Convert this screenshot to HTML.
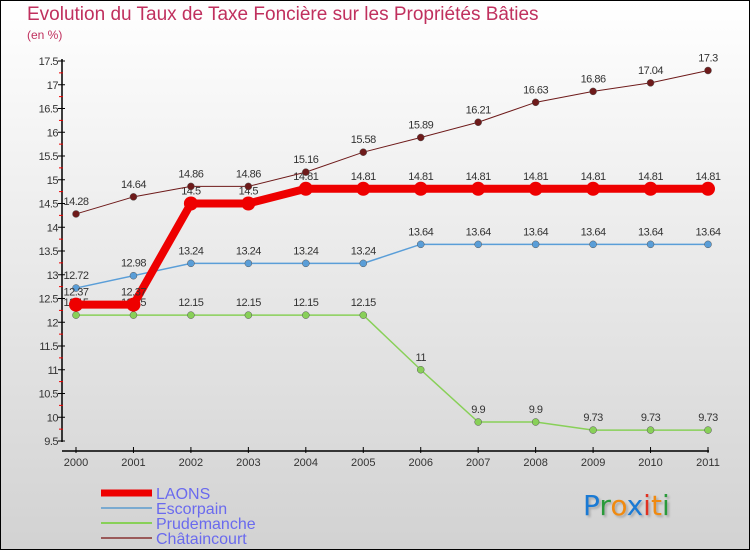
<!DOCTYPE html>
<html><head><meta charset="utf-8"><style>
body{margin:0;}
#wrap{position:relative;width:750px;height:550px;background:linear-gradient(#ffffff,#d2d2d2);border:1px solid #000;box-sizing:border-box;font-family:"Liberation Sans",sans-serif;overflow:hidden}
.t{position:absolute;color:#c0305e}
</style></head><body>
<div id="wrap">
<div class="t" style="left:26px;top:3px;font-size:19px">Evolution du Taux de Taxe Foncière sur les Propriétés Bâties</div>
<div class="t" style="left:26px;top:27px;font-size:12px">(en %)</div>
<svg id="svg" width="750" height="550" style="position:absolute;left:0;top:0"></svg>
<div style="position:absolute;left:582px;top:488px;font-size:28px;font-family:'DejaVu Sans',sans-serif;text-shadow:2px 2px 2px #aaa"><span style="color:#1a7ad4">P</span><span style="color:#2a9a3a">r</span><span style="color:#f08a10">o</span><span style="color:#1a7ad4">x</span><span style="color:#e03020">i</span><span style="color:#f08a10">t</span><span style="color:#2a9a3a">i</span></div>
</div>
<script>
const years=["2000","2001","2002","2003","2004","2005","2006","2007","2008","2009","2010","2011"];
const laons=[12.37,12.37,14.5,14.5,14.81,14.81,14.81,14.81,14.81,14.81,14.81,14.81];
const escorpain=[12.72,12.98,13.24,13.24,13.24,13.24,13.64,13.64,13.64,13.64,13.64,13.64];
const prudemanche=[12.15,12.15,12.15,12.15,12.15,12.15,11,9.9,9.9,9.73,9.73,9.73];
const chataincourt=[14.28,14.64,14.86,14.86,15.16,15.58,15.89,16.21,16.63,16.86,17.04,17.3];
const yTicks=[9.5,10,10.5,11,11.5,12,12.5,13,13.5,14,14.5,15,15.5,16,16.5,17,17.5];
const labelsL=["12.37","12.37","14.5","14.5","14.81","14.81","14.81","14.81","14.81","14.81","14.81","14.81"];
const svg=document.getElementById('svg');const NS='http://www.w3.org/2000/svg';
function X(i){return 75+i*(707-75)/11;}
function Y(v){return 440-(v-9.5)*47.5;}
function mk(tag,attrs,name){const e=document.createElementNS(NS,tag);for(const k in attrs)e.setAttribute(k,attrs[k]);


svg.appendChild(e);return e;}
mk('line',{x1:61,y1:58,x2:61,y2:441,stroke:'#000','stroke-width':1.5},'y-axis');
mk('line',{x1:61,y1:450,x2:708,y2:450,stroke:'#000','stroke-width':1.5},'x-axis');
yTicks.forEach(v=>{const y=Y(v);mk('line',{x1:57,y1:y,x2:64,y2:y,stroke:'#000'},'y-tick');
const t=mk('text',{x:57,y:y+4,'text-anchor':'end','font-size':11,fill:'#333','letter-spacing':'-0.5'},'y-tick-label');t.textContent=v;
if(v<17.5){mk('line',{x1:58,y1:Y(v+0.25),x2:62,y2:Y(v+0.25),stroke:'#e00'},'y-minor-tick');}});
years.forEach((yr,i)=>{mk('line',{x1:X(i),y1:446,x2:X(i),y2:452,stroke:'#000'},'x-tick');
const t=mk('text',{x:X(i),y:465,'text-anchor':'middle','font-size':11,fill:'#333'},'x-tick-label');t.textContent=yr;});
function series(vals,color,w,r,name,labels){
mk('polyline',{points:vals.map((v,i)=>X(i)+','+Y(v)).join(' '),fill:'none',stroke:color,'stroke-width':w},name+'-line');
vals.forEach((v,i)=>{mk('circle',{cx:X(i),cy:Y(v),r:r,fill:color,stroke:w>2?'none':'#555','stroke-width':0.5},name+'-point');
const t=mk('text',{x:X(i),y:Y(v)-9,'text-anchor':'middle','font-size':11,fill:'#333','letter-spacing':'-0.5'},name+'-value-label');t.textContent=labels?labels[i]:v;});}
series(prudemanche,'#88d058',1.5,3.5,'prudemanche');
series(escorpain,'#5a9ed8',1.5,3.5,'escorpain');
series(laons,'#ee0000',8,7,'laons',labelsL);
series(chataincourt,'#6e1a1a',1,3.5,'chataincourt');
const legend=[["LAONS","#ee0000",7],["Escorpain","#7aaad0",2],["Prudemanche","#88d058",2],["Châtaincourt","#9a5a5a",2]];
legend.forEach((l,i)=>{const y=492+i*15;
mk('line',{x1:100,y1:y,x2:151,y2:y,stroke:l[1],'stroke-width':l[2]},'legend-swatch');
const t=mk('text',{x:155,y:y+6,'font-size':16,fill:'#6a6aee'},'legend-entry');t.textContent=l[0];});
</script>
</body></html>
